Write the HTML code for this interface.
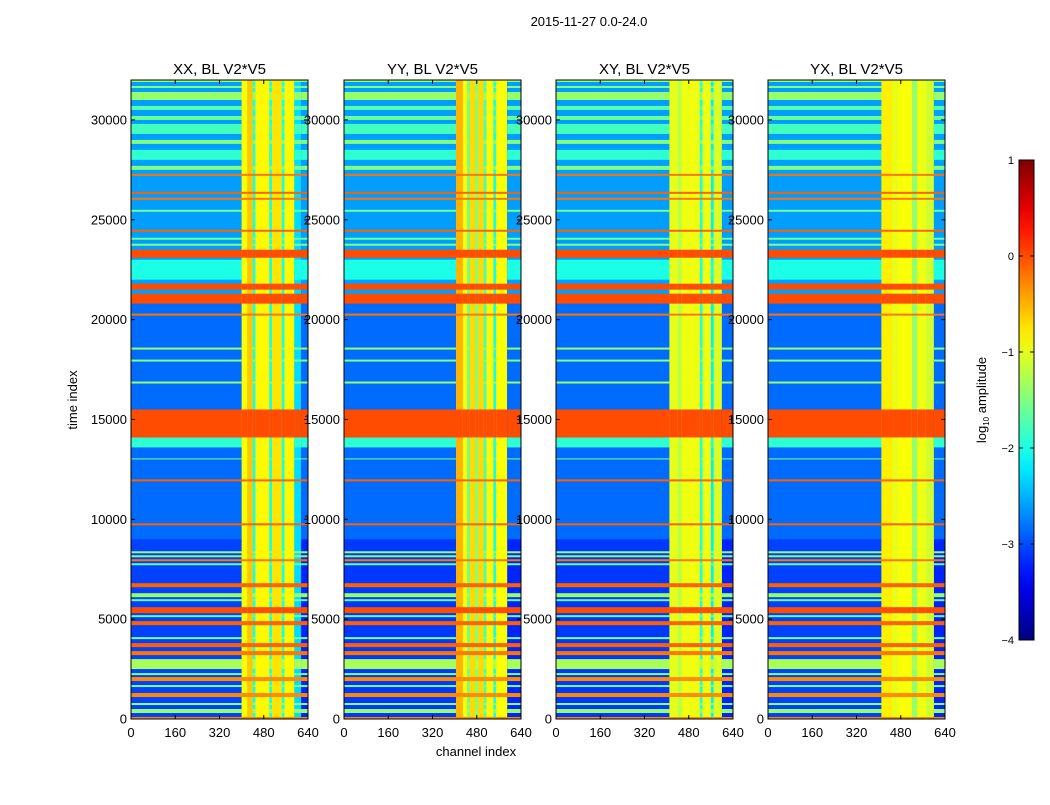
<!DOCTYPE html>
<html><head><meta charset="utf-8">
<style>
body{margin:0;background:#fff;}
svg text{font-family:"Liberation Sans",sans-serif;}
</style></head>
<body>
<svg id="fig" width="1050" height="800" xmlns="http://www.w3.org/2000/svg">
<rect width="1050" height="800" fill="#fff"/>
<text x="589" y="26" font-size="13" text-anchor="middle">2015-11-27 0.0-24.0</text>
<text transform="translate(77,400) rotate(-90)" font-size="13" text-anchor="middle">time index</text>
<text x="476" y="756" font-size="13" text-anchor="middle">channel index</text>
<g id="panels"></g>
<g id="cbar"></g>
</svg>
<script>
// ---- data ----
const panelTitles = ["XX, BL V2*V5","YY, BL V2*V5","XY, BL V2*V5","YX, BL V2*V5"];
const xTicks = [0,160,320,480,640];
const yTicks = [0,5000,10000,15000,20000,25000,30000];
const cbarTicks = [1,0,-1,-2,-3,-4];
// channel segments per panel: [startCh, endCh, log10 amp]
const colsXX = [[0,400,-3.05],[400,420,-0.9],[420,440,-0.6],[440,450,-2.0],[450,500,-0.85],[500,510,-2.0],[510,545,-0.75],[545,555,-2.0],[555,590,-0.85],[590,615,-2.3],[615,640,-3.2]];
const colsYY = [[0,405,-3.1],[405,430,-0.5],[430,445,-0.9],[445,455,-1.6],[455,475,-0.7],[475,485,-1.5],[485,505,-0.7],[505,515,-1.8],[515,540,-0.85],[540,550,-2.0],[550,590,-0.9],[590,640,-3.2]];
const colsXY = [[0,410,-3.1],[410,440,-1.0],[440,455,-1.2],[455,520,-0.95],[520,530,-2.0],[530,560,-0.95],[560,570,-2.2],[570,600,-1.05],[600,640,-3.2]];
const colsYX = [[0,410,-3.05],[410,450,-0.8],[450,470,-1.0],[470,520,-0.9],[520,540,-1.4],[540,570,-0.95],[570,600,-1.1],[600,640,-3.2]];
// time bands: [startT, endT, log10 amp]
const rowBands = [[21000,32000,-2.6],[9000,21000,-2.85],[0,100,-0.3],[300,500,-1.4],[700,800,-1.4],[1100,1300,-0.3],[1600,1700,-1.5],[1900,2100,-0.3],[2200,2300,-1.5],[2500,3000,-1.3],[3200,3400,-0.2],[3600,3800,-0.1],[4000,4100,-1.5],[4700,4900,-0.1],[5100,5200,-1.6],[5300,5600,0.0],[5900,6000,-1.6],[6100,6300,-1.4],[6600,6800,-0.1],[7700,7800,-1.6],[7900,8000,-0.2],[8100,8200,-1.5],[8300,8400,-1.4],[9700,9800,-0.1],[11900,12000,-0.1],[13000,13050,-1.5],[13600,14100,-1.9],[14100,15500,0.0],[16800,16900,-1.4],[17900,18000,-1.5],[18500,18600,-1.4],[20200,20300,-0.2],[20800,21300,0.0],[21500,21800,0.0],[22000,23000,-2.0],[23100,23500,0.0],[23700,23800,-1.5],[24000,24100,-1.6],[24400,24500,-0.1],[25400,25500,-1.6],[26000,26100,-0.2],[26300,26400,-0.1],[27200,27300,-0.2],[27500,27700,-1.5],[28000,28500,-1.9],[28800,29000,-1.5],[29300,29800,-1.8],[30000,30200,-1.6],[30500,30700,-1.7],[31000,31400,-1.4],[31600,31700,-1.5],[31900,32000,-1.4]];
const panelCols = [colsXX,colsYY,colsXY,colsYX];
const panelX = [131,344,556,768];

// ---- helpers ----
const NS="http://www.w3.org/2000/svg";
const PW=177, PT=80, PB=719;
function jet(v){
  let t=Math.max(0,Math.min(1,(v+4)/5));
  const f=(x)=>Math.max(0,Math.min(1,1.5-Math.abs(4*t-x)));
  return `rgb(${Math.round(f(3)*255)},${Math.round(f(2)*255)},${Math.round(f(1)*255)})`;
}
function yScale(t){return PB-(t/32000)*(PB-PT);}
function mk(tag,attrs,parent){const e=document.createElementNS(NS,tag);for(const k in attrs)e.setAttribute(k,attrs[k]);parent.appendChild(e);return e;}

const gp=document.getElementById('panels');
panelCols.forEach((cols,pi)=>{
  const x0=panelX[pi];
  const xScale=(c)=>x0+c/640*PW;
  const g=mk('g',{},gp);
  
  
  cols.forEach(c=>{
    const r=mk('rect',{x:xScale(c[0]),y:PT,width:xScale(c[1])-xScale(c[0])+0.3,height:PB-PT,fill:jet(c[2])},g);
    
    
    rowBands.forEach(b=>{
      if(b[2]<=c[2])return;
      const y1=yScale(b[1]),y2=yScale(b[0]);
      const rr=mk('rect',{x:xScale(c[0]),y:y1,width:xScale(c[1])-xScale(c[0])+0.3,height:Math.max(1,y2-y1),fill:jet(b[2])},g);
      
      
    });
  });
  const fr=mk('rect',{x:x0,y:PT,width:PW,height:PB-PT,fill:'none',stroke:'#000','stroke-width':1},g);
  
  
  const tt=mk('text',{x:x0+PW/2,y:74,'font-size':15,'text-anchor':'middle'},g);
  tt.textContent=panelTitles[pi];
  
  
  xTicks.forEach(v=>{
    const x=xScale(v);
    mk('line',{x1:x,x2:x,y1:PB,y2:PB-4,stroke:'#000'},g);
    mk('line',{x1:x,x2:x,y1:PT,y2:PT+4,stroke:'#000'},g);
    const t=mk('text',{x:x,y:737,'font-size':13,'text-anchor':'middle'},g);
    t.textContent=v;
    
    
  });
  yTicks.forEach(v=>{
    const y=yScale(v);
    mk('line',{x1:x0,x2:x0+4,y1:y,y2:y,stroke:'#000'},g);
    mk('line',{x1:x0+PW,x2:x0+PW-4,y1:y,y2:y,stroke:'#000'},g);
    const t=mk('text',{x:x0-4,y:y+4.5,'font-size':13,'text-anchor':'end'},g);
    t.textContent=v;
    
    
  });
});

// colorbar
const cb=document.getElementById('cbar');
const CX=1019,CW=15,CT=160,CB=640;
const cbScale=(v)=>CB-(v+4)/5*(CB-CT);
const defs=mk('defs',{},cb);
const lg=mk('linearGradient',{id:'jetg',x1:0,y1:1,x2:0,y2:0},defs);
for(let i=0;i<=20;i++){mk('stop',{offset:i/20,'stop-color':jet(-4+i*5/20)},lg);}
const cr=mk('rect',{x:CX,y:CT,width:CW,height:CB-CT,fill:'url(#jetg)',stroke:'#000'},cb);


cbarTicks.forEach(v=>{
  const y=cbScale(v);
  mk('line',{x1:CX,x2:CX+4,y1:y,y2:y,stroke:'#000'},cb);
  mk('line',{x1:CX+CW,x2:CX+CW-4,y1:y,y2:y,stroke:'#000'},cb);
  const t=mk('text',{x:1014,y:y+4,'font-size':11,'text-anchor':'end'},cb);
  t.textContent=v<0?'\u2212'+(-v):String(v);
  
  
});
const cl=mk('text',{transform:'translate(986,400) rotate(-90)','font-size':13,'text-anchor':'middle'},cb);
cl.innerHTML='log<tspan font-size="8" dy="3">10</tspan><tspan dy="-3"> amplitude</tspan>';


</script>
</body></html>
